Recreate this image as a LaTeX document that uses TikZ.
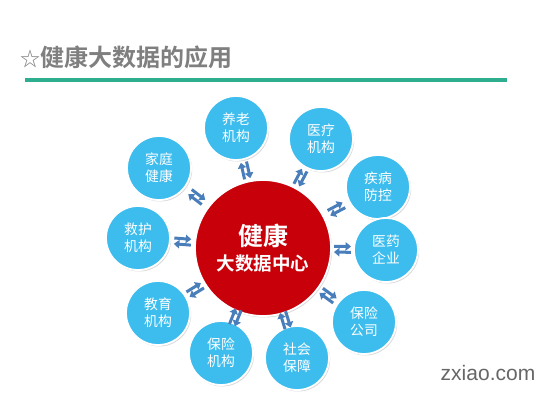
\documentclass[tikz,border=0pt]{standalone}
\usepackage{fontspec}
\usetikzlibrary{arrows.meta,shadows}
\newfontfamily\cjk[BoldFont={Noto Sans CJK SC Bold}]{Noto Sans CJK SC}
\newfontfamily\wmark{Liberation Sans}
\definecolor{titlegray}{HTML}{7F7F7F}
\definecolor{ruleteal}{HTML}{2EAE8F}
\definecolor{skyblue}{HTML}{3DBDEE}
\definecolor{hubred}{HTML}{C8000A}
\definecolor{arrowblue}{HTML}{4A7EBB}

\tikzset{
  bubble/.style={circle,fill=skyblue,draw=white,line width=1.8pt,minimum size=64pt,inner sep=0pt,
    align=center,text=white,font={\cjk\fontsize{13.8}{17}\selectfont},
    drop shadow={opacity=.3,shadow xshift=1.2pt,shadow yshift=-1.5pt}},
  hubnode/.style={bubble,fill=hubred,minimum size=136pt,font={\cjk\bfseries\fontsize{18.5}{25}\selectfont}},
  arr/.style={arrowblue,line width=3pt,-{Triangle[width=8.5pt,length=5.5pt]}},
  twoway/.pic={
    \draw[arr] (-8.5,-2.9) -- (8.5,-2.9);
    \draw[arr] (8.5,2.9) -- (-8.5,2.9);
  }
}

\begin{document}
\begin{tikzpicture}[x=1pt,y=-1pt]
\useasboundingbox (0,0) rectangle (550,400);
% title and rule
\node[anchor=west,text=titlegray,font={\cjk\bfseries\fontsize{24}{24}\selectfont}] (title) at (17,57)
  {{\mdseries\fontsize{20}{20}\selectfont ☆}健康大数据的应用};
\draw[ruleteal,line width=4pt] (25,80) -- (507,80);
% outer ring
\foreach \n/\x/\y/\t in {nursing/236/128/{养老\\机构},hospital/321/139/{医疗\\机构},
  disease/378/187/{疾病\\防控},pharma/386/250/{医药\\企业},insurer/364/322/{保险\\公司},
  social/297/358/{社会\\保障},insure/221/353/{保险\\机构},school/158/313/{教育\\机构},
  rescue/138/238/{救护\\机构},family/159/168/{家庭\\健康}}{
  \node[bubble] (\n) at (\x,\y) {\t};
}
\node[hubnode] (hub) at (263,248) {{\fontsize{25}{25}\selectfont 健康}\\大数据中心};
\foreach \n in {nursing,hospital,disease,pharma,insurer,social,insure,school,rescue,family}
  \path (hub) -- pic[pos=.5,sloped]{twoway} (\n);
\node[text=black!60,font={\wmark\fontsize{21}{21}\selectfont}] (mark) at (488,373) {zxiao.com};
\end{tikzpicture}
\end{document}
